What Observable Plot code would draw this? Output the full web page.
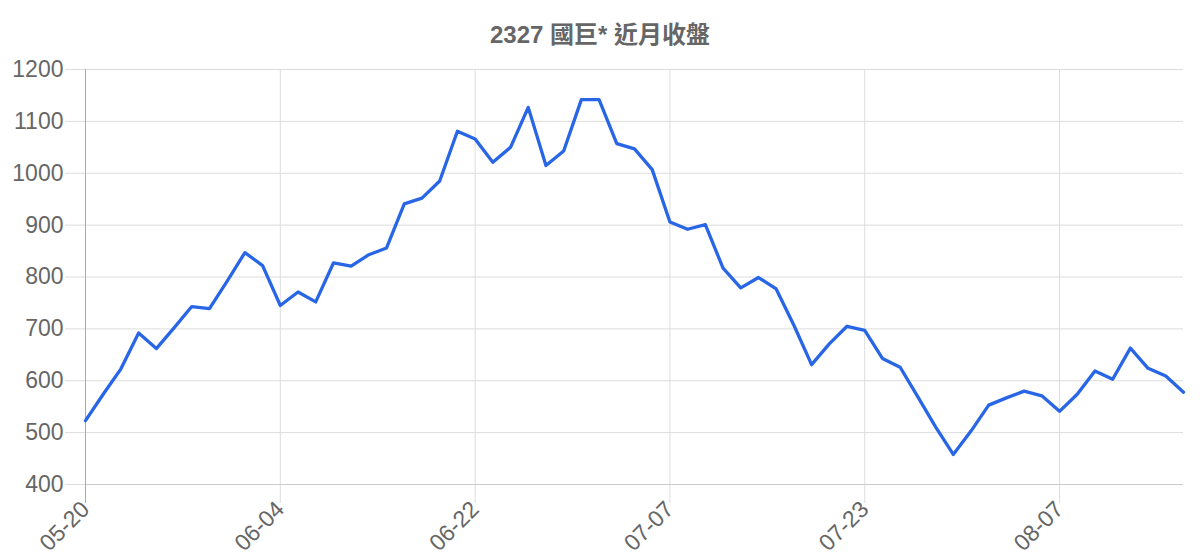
<!DOCTYPE html>
<html>
<head>
<meta charset="utf-8">
<script src="https://cdn.jsdelivr.net/npm/d3@7"></script>
<script src="https://cdn.jsdelivr.net/npm/@observablehq/plot@0.6"></script>
<style>
  body { margin: 0; background: #fff; font-family: "Liberation Sans", Arial, "Noto Sans CJK TC", sans-serif; }
  #title { height: 30px; padding-top: 20px; line-height: 30px; text-align: center; font-weight: bold; font-size: 24px; color: #666; font-family: "Liberation Sans", Arial, "Noto Sans CJK TC", sans-serif; }
</style>
</head>
<body>
<div id="title">2327 國巨* 近月收盤</div>
<div id="chart"></div>
<script>
const tickLabels = ["05-20", "06-04", "06-22", "07-07", "07-23", "08-07"];
const tickIndex = [0, 11, 22, 33, 44, 55];
const yTicks = [400, 500, 600, 700, 800, 900, 1000, 1100, 1200];
const closes = [
  523, 574, 623, 692, 662, 702, 743, 739, 792, 847,
  822, 745, 771, 752, 827, 821, 843, 856, 941, 952,
  985, 1081, 1066, 1021, 1050, 1127, 1015, 1043, 1142, 1142,
  1057, 1047, 1007, 906, 892, 901, 817, 779, 799, 777,
  707, 631, 671, 705, 697, 643, 626, 569, 511, 458,
  503, 553, 567, 580, 571, 541, 574, 619, 603, 663,
  624, 609, 578
];
const data = closes.map((v, i) => ({ i, v }));

const chart = Plot.plot({
  width: 1200,
  height: 510,
  marginTop: 19,
  marginBottom: 76,
  marginLeft: 85,
  marginRight: 17,
  style: { fontFamily: "Liberation Sans, Arial, sans-serif", fontSize: "23px", background: "#fff" },
  x: { domain: [0, closes.length - 1] },
  y: { domain: [400, 1200] },
  marks: [
    Plot.gridY(yTicks, { stroke: "#ddd", strokeOpacity: 1 }),
    Plot.gridX(tickIndex.slice(1), { stroke: "#ddd", strokeOpacity: 1 }),
    Plot.axisY(yTicks, { tickSize: 20, tickPadding: 2, stroke: "#ddd", fill: "#666", fontSize: 23, label: null, tickFormat: (d) => String(d) }),
    Plot.axisX(tickIndex, {
      tickSize: 19, stroke: "#ddd", fill: "#666", fontSize: 23, label: null,
      tickRotate: -45, tickPadding: 2,
      tickFormat: (d) => tickLabels[tickIndex.indexOf(d)]
    }),
    Plot.ruleY([400], { stroke: "#ccc" }),
    Plot.ruleX([0], { stroke: "#aaa", insetBottom: -19 }),
    Plot.line(data, { x: "i", y: "v", stroke: "#2866e6", strokeWidth: 3.3 })
  ]
});
document.getElementById("chart").appendChild(chart);
</script>
</body>
</html>
